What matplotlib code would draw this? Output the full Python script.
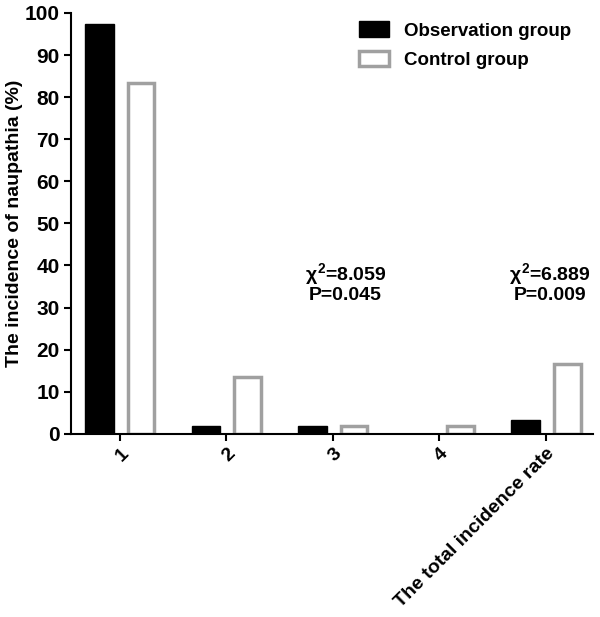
import matplotlib
matplotlib.use("Agg")
import matplotlib.pyplot as plt
import numpy as np

categories = ["1", "2", "3", "4", "The total incidence rate"]
observation = [97.3, 1.9, 1.9, 0.0, 3.3]
control = [83.3, 13.4, 1.9, 1.9, 16.5]
series_names = ["Observation group", "Control group"]
annotations = [(2.12, r"$\chi^{2}$=8.059" + "\nP=0.045"), (4.04, r"$\chi^{2}$=6.889" + "\nP=0.009")]
yticks = [0, 10, 20, 30, 40, 50, 60, 70, 80, 90, 100]

plt.rcParams['font.family'] = ['Liberation Sans', 'DejaVu Sans']
plt.rcParams['font.weight'] = 'bold'
plt.rcParams['mathtext.fontset'] = 'custom'
plt.rcParams['mathtext.rm'] = 'Liberation Sans:bold'
plt.rcParams['mathtext.it'] = 'Liberation Sans:bold'
plt.rcParams['mathtext.bf'] = 'Liberation Sans:bold'

fig = plt.figure(figsize=(6, 6.17), dpi=100)
ax = fig.add_axes([0.118, 0.297, 0.870, 0.682])

x = np.arange(len(categories))
w = 0.27
ax.bar(x - 0.19, observation, width=w, color='black', edgecolor='black', linewidth=1, label=series_names[0])
ax.bar(x + 0.20, control, width=w - 0.02, color='white', edgecolor='#a0a0a0', linewidth=2.5, label=series_names[1])

ax.set_xlim(-0.46, 4.44)
ax.set_ylim(0, 100)
ax.set_yticks(yticks)
ax.set_xticks(x)
ax.set_xticklabels(categories, rotation=45, ha='right', rotation_mode='anchor', fontsize=14, fontweight='bold')
for lbl in ax.get_yticklabels():
    lbl.set_fontsize(15)
    lbl.set_fontweight('bold')
ylab = ax.set_ylabel("The incidence of naupathia (%)", fontsize=14, fontweight='bold')
ax.yaxis.set_label_coords(-0.107, 0.5)
ylab.set_va('center')

for s in ['top', 'right']:
    ax.spines[s].set_visible(False)
for s in ['left', 'bottom']:
    ax.spines[s].set_linewidth(1.5)
ax.tick_params(axis='both', direction='out', length=5, width=1.5, pad=3)

for xi, txt in annotations:
    ax.text(xi, 36, txt, ha='center', va='center', fontsize=14, fontweight='bold', linespacing=1.0)

leg = ax.legend(loc='upper left', bbox_to_anchor=(0.52, 1.02), frameon=False, fontsize=13.5,
                handlelength=1.6, handleheight=0.9, handletextpad=0.8, labelspacing=0.6)

fig.savefig("out.png", dpi=100)
